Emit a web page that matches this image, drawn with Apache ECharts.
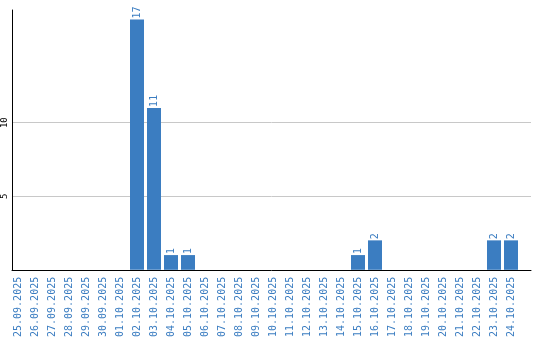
<!DOCTYPE html>
<html>
<head>
<meta charset="utf-8">
<script src="https://cdn.jsdelivr.net/npm/echarts@6/dist/echarts.min.js"></script>
<style>html,body{margin:0;padding:0;background:#fff}#c{width:540px;height:340px}</style>
</head>
<body>
<div id="c"></div>
<script>
const categories = ['25.09.2025','26.09.2025','27.09.2025','28.09.2025','29.09.2025','30.09.2025','01.10.2025','02.10.2025','03.10.2025','04.10.2025','05.10.2025','06.10.2025','07.10.2025','08.10.2025','09.10.2025','10.10.2025','11.10.2025','12.10.2025','13.10.2025','14.10.2025','15.10.2025','16.10.2025','17.10.2025','18.10.2025','19.10.2025','20.10.2025','21.10.2025','22.10.2025','23.10.2025','24.10.2025'];
const values = [0,0,0,0,0,0,0,17,11,1,1,0,0,0,0,0,0,0,0,0,1,2,0,0,0,0,0,0,2,2];
const yTickValues = [5, 10];
const yMax = 17.65;

const blue = '#3b7dc1';
const mono = 'DejaVu Sans Mono';
const chart = echarts.init(document.getElementById('c'));
chart.setOption({
  animation: false,
  grid: [
    {left: 11, right: 9, top: 10, bottom: 70},
    {left: 9.5, width: 510, top: 10, bottom: 70}
  ],
  xAxis: [
    {type: 'category', gridIndex: 0, data: categories, axisLine: {lineStyle: {color: '#000', width: 1}}, axisTick: {show: false}, axisLabel: {show: false}},
    {type: 'category', gridIndex: 1, data: categories, axisLine: {show: false}, axisTick: {show: false},
     axisLabel: {rotate: 90, interval: 0, color: blue, fontFamily: mono, fontSize: 10, margin: 7}}
  ],
  yAxis: [
    {type: 'value', gridIndex: 0, min: 0, max: yMax,
     axisLine: {show: true, lineStyle: {color: '#000', width: 1}},
     axisTick: {show: false, customValues: yTickValues},
     axisLabel: {customValues: yTickValues, rotate: 90, color: '#000', fontFamily: mono, fontSize: 9, margin: 3},
     splitLine: {show: true, lineStyle: {color: '#c8c8c8', width: 1}}},
    {type: 'value', gridIndex: 1, min: 0, max: yMax, show: false, splitLine: {show: false}}
  ],
  series: [{
    type: 'bar', xAxisIndex: 1, yAxisIndex: 1, data: values, barWidth: 14,
    itemStyle: {color: blue},
    label: {show: true, position: 'top', rotate: 90, align: 'left', verticalAlign: 'middle', distance: 1,
      color: blue, fontFamily: mono, fontSize: 10,
      formatter: p => p.value ? String(p.value) : ''}
  }]
});
</script>
</body>
</html>
